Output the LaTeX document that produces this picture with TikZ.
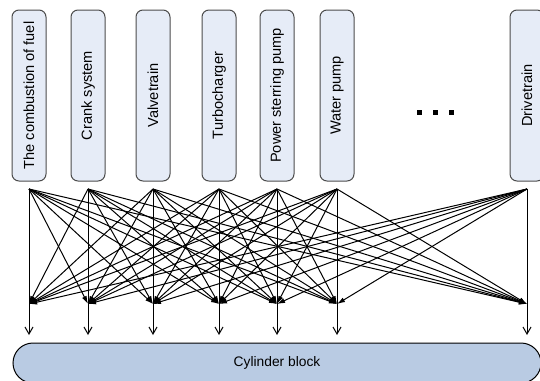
\documentclass[tikz,border=0pt]{standalone}
\usepackage{fontspec}
\setmainfont{Liberation Sans}
\usetikzlibrary{shapes.misc}
\usetikzlibrary{arrows.meta}
\definecolor{partfill}{HTML}{E6ECF7}
\definecolor{blockfill}{HTML}{B9CBE3}
\tikzset{
	node_part/.style = {
		rotate=90,
		align=center,
		inner sep=0pt,
		draw=black!70,
		fill=partfill,
		rounded corners=7pt,
		minimum width=171pt,
		minimum height=34pt,
		font=\fontsize{14.6}{16}\selectfont
	},
	node_block/.style = {
		rounded rectangle,
		inner sep=0pt,
		draw=black,
		fill=blockfill,
		minimum width=528pt,
		minimum height=40pt,
		font=\fontsize{13.8}{16}\selectfont
	},
	node_dot/.style = {
		rectangle,
		fill=black,
		inner sep=0pt,
		minimum size=5pt
	},
	link/.style = {
		-{Latex[length=8pt,width=5pt]}
	},
	drop/.style = {
		-{Straight Barb[length=7pt,width=8pt]}
	},
}

\begin{document}
\begin{tikzpicture}[x=1pt,y=-1pt,line width=1pt]
\useasboundingbox (0,0) rectangle (540,380);
% parts on top
\foreach \name/\x/\txt in {fuel/29/The combustion of fuel, crank/88/Crank system, valve/153/Valvetrain, turbo/219/Turbocharger, steer/277/Power sterring pump, water/337/Water pump, drive/527/Drivetrain}
{
	\node [node_part] (\name) at (\x,95.5) {\txt};
	\coordinate (\name-top) at (\x,189);
	\coordinate (\name-bot) at (\x,304);
	\coordinate (\name-end) at (\x,335);
}
\foreach \i/\x in {1/419,2/435,3/451}
	\node [node_dot] (dot\i) at (\x,112) {};
% cylinder block
\node [node_block] (block) at (277,363) {Cylinder block};
% every part to every other
\foreach \a in {fuel,crank,valve,turbo,steer,water,drive}
	\foreach \b in {fuel,crank,valve,turbo,steer,water,drive}
	{
		\ifx\a\b\else
			\draw [link] (\a-top) -- (\b-bot);
		\fi
	}
\foreach \a in {fuel,crank,valve,turbo,steer,water,drive}
	\draw [drop] (\a-top) -- (\a-end);
\end{tikzpicture}
\end{document}
